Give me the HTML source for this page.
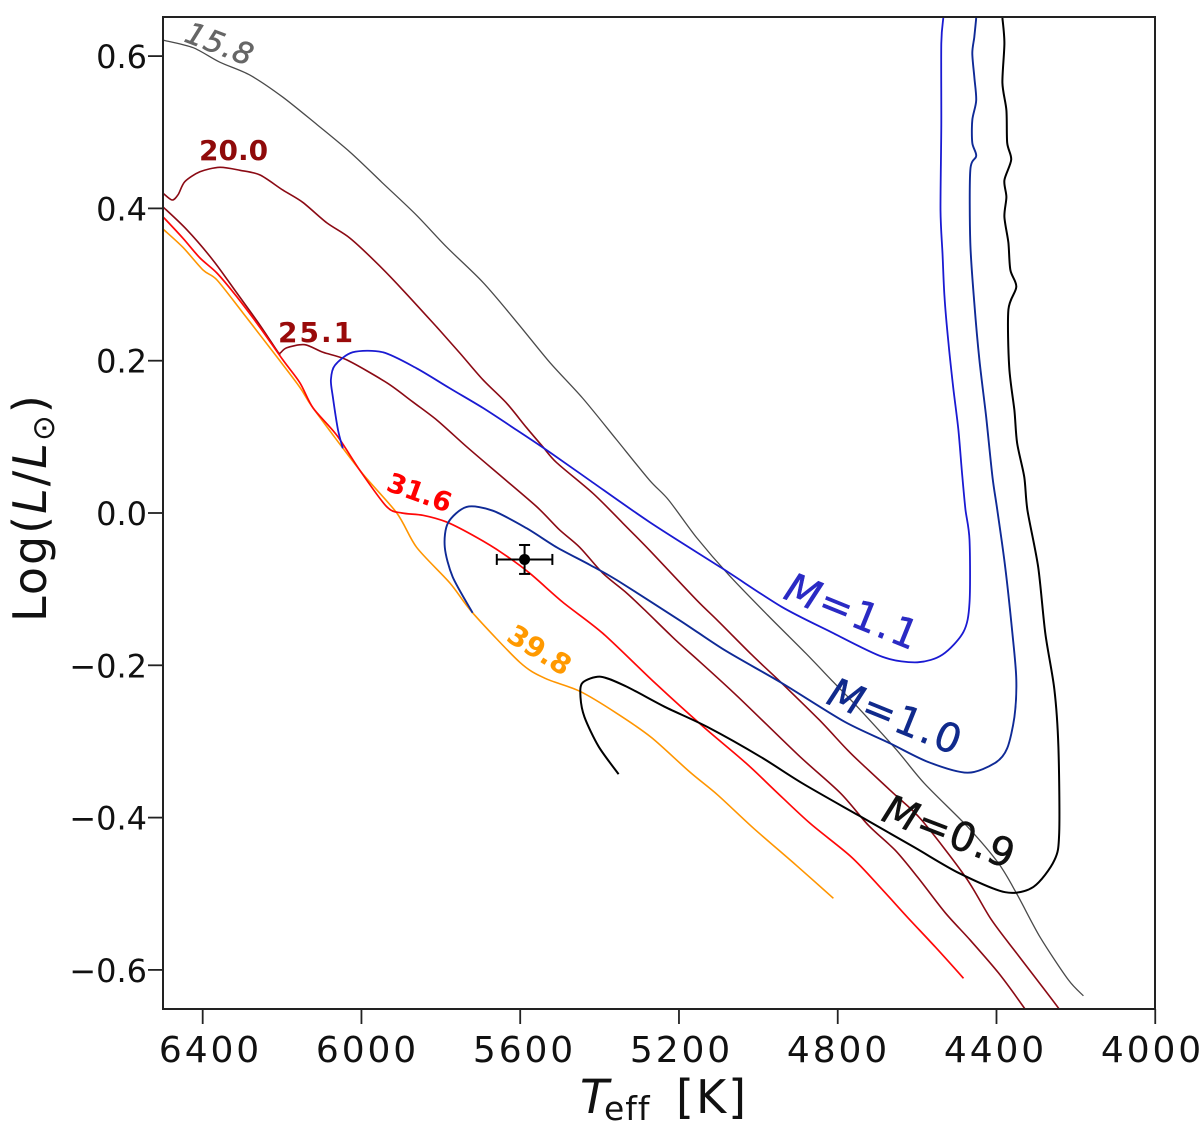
<!DOCTYPE html>
<html>
<head>
<meta charset="utf-8">
<title>HR diagram</title>
<style>
html,body{margin:0;padding:0;background:#fff;width:1200px;height:1124px;overflow:hidden}
svg{display:block}
text{font-family:"DejaVu Sans","Liberation Sans",sans-serif}
</style>
</head>
<body>
<svg id="chart" width="1200" height="1124" viewBox="0 0 1200 1124" xmlns="http://www.w3.org/2000/svg">
  <defs><clipPath id="plot-clip"><rect x="163" y="17" width="992" height="992"/></clipPath></defs>
  <rect x="163" y="17" width="992" height="992" fill="#fff"/>
  <g id="curves" clip-path="url(#plot-clip)"></g>
  <g id="point"></g>
  <rect x="163" y="17" width="992" height="992" fill="none" stroke="#222" stroke-width="2"/>
  <g id="ticks"></g>

  <text transform="translate(183,41) rotate(21)" font-size="30" letter-spacing="1" fill="#666" stroke="#666" stroke-width="0.6" font-style="italic">15.8</text>
  <text x="199" y="160" font-size="28" font-weight="bold" fill="#8f0a0a">20.0</text>
  <text x="278" y="342" font-size="28" letter-spacing="2" font-weight="bold" fill="#990a0a">25.1</text>
  <text transform="translate(385,490) rotate(20)" font-size="27" font-weight="bold" fill="#f00">31.6</text>
  <text transform="translate(505,640) rotate(32)" font-size="28" font-weight="bold" fill="#f90">39.8</text>
  <text transform="translate(782,598) rotate(22)" font-size="40" letter-spacing="2" fill="#2a2ac4" stroke="#2a2ac4" stroke-width="0.5"><tspan font-style="italic">M</tspan>=1.1</text>
  <text transform="translate(825,703) rotate(22)" font-size="40" letter-spacing="2" fill="#102a8c" stroke="#102a8c" stroke-width="0.5"><tspan font-style="italic">M</tspan>=1.0</text>
  <text transform="translate(880,820) rotate(21)" font-size="40" letter-spacing="1.4" fill="#111" stroke="#111" stroke-width="0.5"><tspan font-style="italic">M</tspan>=0.9</text>

  <text y="1113" font-size="47" fill="#111"><tspan x="580" font-style="italic">T</tspan><tspan x="604" font-size="33" dy="7" letter-spacing="1">eff</tspan><tspan x="676" dy="-7" font-size="46" letter-spacing="2">[K]</tspan></text>
  <text transform="translate(46,622) rotate(-90)" font-size="46" letter-spacing="2" fill="#111">Log(<tspan font-style="italic">L</tspan>/<tspan font-style="italic">L</tspan><tspan font-size="31" dy="8">⊙</tspan><tspan dy="-8">)</tspan></text>
</svg>
<script>
const xTicks = [6400, 6000, 5600, 5200, 4800, 4400, 4000];
const yTicks = [0.6, 0.4, 0.2, 0.0, -0.2, -0.4, -0.6];

const age158T = [6500,6424,6357,6281,6198,6112,6029,5946,5861,5785,5694,5609,5526,5443,5357,5274,5226,5156,5075,4977,4881,4811,4748,4652,4582,4473,4395,4350,4290,4219,4181];
const age158L = [0.621,0.611,0.592,0.575,0.546,0.510,0.474,0.433,0.391,0.349,0.303,0.251,0.198,0.151,0.096,0.043,0.017,-0.032,-0.081,-0.134,-0.184,-0.222,-0.256,-0.311,-0.355,-0.412,-0.460,-0.499,-0.557,-0.613,-0.634];

const age200T = [6500,6477,6462,6445,6407,6357,6306,6256,6198,6148,6087,6029,5961,5896,5810,5752,5694,5634,5584,5543,5508,5417,5342,5274,5156,5103,5017,4942,4846,4776,4730,4660,4589,4478,4413,4342,4244,4235];
const age200L = [0.420,0.411,0.418,0.435,0.448,0.454,0.450,0.444,0.424,0.408,0.381,0.361,0.328,0.293,0.244,0.210,0.175,0.144,0.112,0.087,0.066,0.026,-0.013,-0.049,-0.114,-0.141,-0.186,-0.223,-0.272,-0.311,-0.334,-0.368,-0.403,-0.478,-0.534,-0.583,-0.650,-0.660];

const age251T = [6500,6440,6374,6314,6256,6210,6205,6188,6143,6097,6037,5936,5871,5810,5735,5652,5558,5501,5450,5392,5332,5287,5208,5146,5050,4899,4793,4723,4655,4599,4529,4466,4395,4330,4320];
const age251L = [0.402,0.372,0.332,0.289,0.247,0.211,0.210,0.217,0.221,0.211,0.201,0.171,0.146,0.122,0.087,0.050,0.008,-0.022,-0.045,-0.079,-0.105,-0.127,-0.167,-0.196,-0.242,-0.318,-0.368,-0.410,-0.443,-0.478,-0.525,-0.561,-0.604,-0.650,-0.660];

const age316T = [6500,6450,6407,6364,6314,6256,6198,6155,6122,6062,6004,5936,5898,5845,5785,5710,5644,5576,5493,5392,5261,5138,5032,4959,4871,4765,4687,4624,4554,4483];
const age316L = [0.389,0.361,0.335,0.315,0.284,0.244,0.201,0.171,0.138,0.102,0.056,0.008,0.000,-0.003,-0.012,-0.032,-0.053,-0.079,-0.117,-0.158,-0.223,-0.281,-0.328,-0.364,-0.407,-0.452,-0.495,-0.531,-0.570,-0.611];

const age398T = [6500,6450,6399,6364,6299,6213,6155,6122,6004,5911,5861,5777,5720,5601,5538,5450,5357,5269,5173,5103,5012,4906,4811];
const age398L = [0.373,0.349,0.319,0.306,0.263,0.205,0.165,0.138,0.056,0.000,-0.045,-0.092,-0.131,-0.196,-0.217,-0.234,-0.263,-0.295,-0.340,-0.370,-0.414,-0.462,-0.506];

const mass11T = [6047,6059,6072,6077,6067,6022,5946,5861,5778,5694,5609,5526,5425,5274,5093,4942,4818,4687,4599,4536,4483,4468,4468,4478,4486,4496,4509,4521,4531,4536,4541,4539,4539,4534];
const mass11L = [0.085,0.109,0.152,0.175,0.194,0.211,0.211,0.190,0.164,0.138,0.109,0.080,0.043,-0.012,-0.072,-0.123,-0.156,-0.189,-0.196,-0.186,-0.156,-0.118,-0.035,0.004,0.047,0.109,0.165,0.223,0.284,0.341,0.398,0.510,0.617,0.650];

const mass10T = [5720,5770,5790,5782,5735,5669,5584,5508,5425,5357,5198,5085,4942,4783,4670,4572,4473,4403,4373,4355,4350,4360,4378,4398,4410,4426,4443,4456,4466,4466,4451,4461,4461,4451,4456,4461,4456,4451];
const mass10L = [-0.131,-0.084,-0.045,-0.013,0.008,0.003,-0.020,-0.045,-0.068,-0.088,-0.141,-0.180,-0.223,-0.274,-0.302,-0.327,-0.341,-0.328,-0.309,-0.268,-0.219,-0.158,-0.071,0.004,0.047,0.126,0.201,0.276,0.355,0.450,0.469,0.486,0.516,0.542,0.573,0.604,0.625,0.650];

const mass09T = [5352,5402,5438,5448,5443,5397,5332,5234,5128,4995,4889,4748,4607,4494,4378,4307,4254,4242,4244,4254,4277,4295,4322,4330,4348,4355,4368,4370,4350,4365,4370,4380,4375,4380,4363,4373,4375,4385,4380,4385];
const mass09L = [-0.343,-0.307,-0.268,-0.242,-0.223,-0.215,-0.228,-0.255,-0.281,-0.320,-0.355,-0.397,-0.439,-0.473,-0.498,-0.491,-0.456,-0.420,-0.307,-0.232,-0.158,-0.071,0.004,0.047,0.092,0.135,0.192,0.267,0.297,0.319,0.355,0.389,0.415,0.437,0.464,0.486,0.529,0.565,0.617,0.650];

const starT = [5589];
const starL = [-0.061];
const starTErr = [70];
const starLErr = [0.019];

const NS = 'http://www.w3.org/2000/svg';
function xScale(t){ return 163 + (6500 - t) * 0.3969; }
function yScale(l){ return 513 - l * 761.5; }
function tickLabelX(v){ return 681.5 + (5200 - v) * 0.3925; }

function pathFor(ts, ls){
  const px = ts.map(xScale);
  const py = ls.map(yScale);
  const n = px.length;
  let d = 'M' + px[0].toFixed(1) + ' ' + py[0].toFixed(1);
  for (let i = 0; i < n - 1; i++) {
    const a = Math.max(i - 1, 0), b = Math.min(i + 2, n - 1);
    const c1x = px[i] + (px[i + 1] - px[a]) / 7;
    const c1y = py[i] + (py[i + 1] - py[a]) / 7;
    const c2x = px[i + 1] - (px[b] - px[i]) / 7;
    const c2y = py[i + 1] - (py[b] - py[i]) / 7;
    d += 'C' + c1x.toFixed(1) + ' ' + c1y.toFixed(1) + ' ' + c2x.toFixed(1) + ' ' + c2y.toFixed(1) + ' ' + px[i + 1].toFixed(1) + ' ' + py[i + 1].toFixed(1);
  }
  return d;
}
function addCurve(name, ts, ls, color, width){
  const p = document.createElementNS(NS, 'path');
  
  
  p.setAttribute('d', pathFor(ts, ls));
  p.setAttribute('fill', 'none');
  p.setAttribute('stroke', color);
  p.setAttribute('stroke-width', width);
  p.setAttribute('stroke-linejoin', 'round');
  document.getElementById('curves').appendChild(p);
}
addCurve('isochrone-15-8', age158T, age158L, '#4a4a4a', 1.3);
addCurve('isochrone-20-0', age200T, age200L, '#8b0a14', 1.6);
addCurve('isochrone-25-1', age251T, age251L, '#8b0a14', 1.6);
addCurve('isochrone-39-8', age398T, age398L, '#ff9500', 1.6);
addCurve('isochrone-31-6', age316T, age316L, '#ff0808', 1.7);
addCurve('track-mass-1-1', mass11T, mass11L, '#1a1ad2', 1.8);
addCurve('track-mass-1-0', mass10T, mass10L, '#0f2a96', 1.9);
addCurve('track-mass-0-9', mass09T, mass09L, '#000000', 2);

function addLine(parent, name, x1, y1, x2, y2, color, width){
  const l = document.createElementNS(NS, 'line');
  
  
  l.setAttribute('x1', x1);
  l.setAttribute('y1', y1);
  l.setAttribute('x2', x2);
  l.setAttribute('y2', y2);
  l.setAttribute('stroke', color);
  l.setAttribute('stroke-width', width);
  parent.appendChild(l);
}

const ticksGroup = document.getElementById('ticks');
function fmtY(v){
  const s = Math.abs(v).toFixed(1);
  return v < 0 ? '\u2212' + s : s;
}
xTicks.forEach(function(v){
  const x = xScale(v);
  addLine(ticksGroup, 'x-tick-' + v, x, 1009, x, 1024, '#222', 1.8);
  const t = document.createElementNS(NS, 'text');
  
  
  t.setAttribute('x', tickLabelX(v));
  t.setAttribute('y', 1062);
  t.setAttribute('text-anchor', 'middle');
  t.setAttribute('font-size', '36');
  t.setAttribute('letter-spacing', '2.9');
  t.setAttribute('fill', '#111');
  t.textContent = String(v);
  ticksGroup.appendChild(t);
});
yTicks.forEach(function(v){
  const y = yScale(v);
  addLine(ticksGroup, 'y-tick', 148, y, 163, y, '#222', 1.8);
  const t = document.createElementNS(NS, 'text');
  
  
  t.setAttribute('x', 147);
  t.setAttribute('y', y + 12);
  t.setAttribute('text-anchor', 'end');
  t.setAttribute('font-size', '32');
  t.setAttribute('fill', '#111');
  t.textContent = fmtY(v);
  ticksGroup.appendChild(t);
});

const pointGroup = document.getElementById('point');
starT.forEach(function(t, i){
  const cx = xScale(t);
  const cy = yScale(starL[i]);
  const xa = xScale(t + starTErr[i]);
  const xb = xScale(t - starTErr[i]);
  const ya = yScale(starL[i] + starLErr[i]);
  const yb = yScale(starL[i] - starLErr[i]);
  addLine(pointGroup, 'x-error-bar', xa, cy, xb, cy, '#000', 2);
  addLine(pointGroup, 'x-error-cap-left', xa, cy - 5.5, xa, cy + 5.5, '#000', 2);
  addLine(pointGroup, 'x-error-cap-right', xb, cy - 5.5, xb, cy + 5.5, '#000', 2);
  addLine(pointGroup, 'y-error-bar', cx, ya, cx, yb, '#000', 2);
  addLine(pointGroup, 'y-error-cap-top', cx - 5.5, ya, cx + 5.5, ya, '#000', 2);
  addLine(pointGroup, 'y-error-cap-bottom', cx - 5.5, yb, cx + 5.5, yb, '#000', 2);
  const c = document.createElementNS(NS, 'circle');
  
  
  c.setAttribute('cx', cx);
  c.setAttribute('cy', cy);
  c.setAttribute('r', 5.5);
  c.setAttribute('fill', '#000');
  pointGroup.appendChild(c);
});
</script>
</body>
</html>
